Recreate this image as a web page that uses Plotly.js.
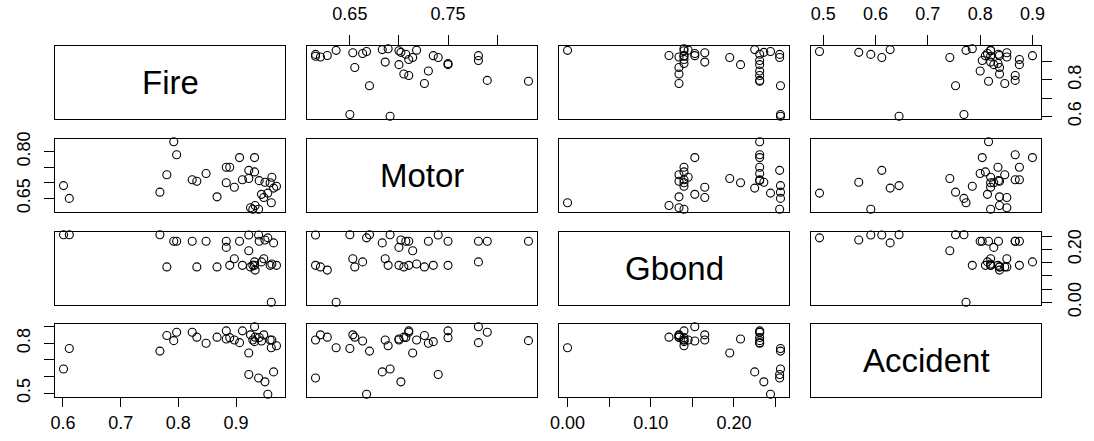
<!DOCTYPE html>
<html>
<head>
<meta charset="utf-8">
<script src="https://cdn.plot.ly/plotly-3.0.1.min.js"></script>
<style>html,body{margin:0;padding:0;background:#fff;}#chart{width:1094px;height:441px;}</style>
</head>
<body>
<div id="chart"></div>
<script>
const varNames = ['Fire', 'Motor', 'Gbond', 'Accident'];
const fire =     [0.601,0.611,0.961,0.768,0.780,0.792,0.797,0.824,0.832,0.848,0.867,0.883,0.889,0.883,0.897,0.906,0.911,0.922,0.932,0.932,0.955,0.965,0.922,0.939,0.950,0.925,0.929,0.933,0.944,0.948,0.959,0.962,0.970,0.940];
const motor =    [0.691,0.650,0.636,0.670,0.726,0.832,0.790,0.710,0.705,0.730,0.655,0.750,0.750,0.700,0.686,0.781,0.710,0.714,0.781,0.735,0.667,0.683,0.740,0.615,0.702,0.620,0.615,0.627,0.663,0.653,0.700,0.718,0.689,0.707];
const gbond =    [0.256,0.256,0.000,0.256,0.134,0.231,0.231,0.231,0.134,0.231,0.134,0.231,0.140,0.208,0.165,0.231,0.140,0.195,0.153,0.140,0.244,0.225,0.255,0.255,0.236,0.134,0.140,0.122,0.153,0.165,0.140,0.145,0.140,0.231];
const accident = [0.645,0.769,0.773,0.753,0.847,0.816,0.867,0.867,0.837,0.800,0.837,0.875,0.834,0.826,0.820,0.804,0.875,0.742,0.900,0.810,0.493,0.628,0.612,0.591,0.568,0.851,0.820,0.837,0.814,0.851,0.820,0.820,0.785,0.835];

// tick values and labels per variable (labels blank where R dropped them)
const fireTicks = [0.6, 0.7, 0.8, 0.9];
const fireLabelsX = ['0.6', '0.7', '0.8', '0.9'];
const fireLabelsY = ['0.6', '', '0.8', ''];
const motorTicks = [0.65, 0.70, 0.75, 0.80];
const motorLabelsX = ['0.65', '', '0.75', ''];
const motorLabelsY = ['0.65', '', '', '0.80'];
const gbondTicks = [0.00, 0.05, 0.10, 0.15, 0.20, 0.25];
const gbondLabelsX = ['0.00', '', '0.10', '', '0.20', ''];
const gbondLabelsY = ['0.00', '', '', '', '0.20', ''];
const accTicks = [0.5, 0.6, 0.7, 0.8, 0.9];
const accLabelsX = ['0.5', '0.6', '0.7', '0.8', '0.9'];
const accLabelsY = ['0.5', '', '', '0.8', ''];

const series = [fire, motor, gbond, accident];
const ticks = [fireTicks, motorTicks, gbondTicks, accTicks];
const labelsX = [fireLabelsX, motorLabelsX, gbondLabelsX, accLabelsX];
const labelsY = [fireLabelsY, motorLabelsY, gbondLabelsY, accLabelsY];

// ---- layout geometry ----
const W = 1094, H = 441;
const colLeft = [55, 307, 559, 811], panelW = 230;
const rowTop = [46, 139, 232, 324], panelH = 73;
const FONT = '"Liberation Sans", Arial, Helvetica, sans-serif';

function rangeOf(arr) {
  const mn = Math.min(...arr), mx = Math.max(...arr), d = (mx - mn) * 0.04;
  return [mn - d, mx + d];
}
const ranges = series.map(rangeOf);

const traces = [];
const layout = {
  width: W, height: H,
  margin: {l: 0, r: 0, t: 0, b: 0},
  paper_bgcolor: '#ffffff', plot_bgcolor: '#ffffff',
  showlegend: false,
  font: {family: FONT, size: 18, color: '#000'},
  annotations: []
};

for (let i = 0; i < 4; i++) {
  for (let j = 0; j < 4; j++) {
    const k = i * 4 + j + 1;
    const xn = 'x' + (k === 1 ? '' : k), yn = 'y' + (k === 1 ? '' : k);
    const xa = 'xaxis' + (k === 1 ? '' : k), ya = 'yaxis' + (k === 1 ? '' : k);
    const showX = (i === 3 && j % 2 === 0) || (i === 0 && j % 2 === 1);
    const showY = (j === 0 && i % 2 === 1) || (j === 3 && i % 2 === 0);
    layout[xa] = {
      domain: [colLeft[j] / W, (colLeft[j] + panelW) / W],
      anchor: yn, range: ranges[j],
      showgrid: false, zeroline: false,
      showline: true, linecolor: '#000', linewidth: 1, mirror: true,
      side: (i === 0) ? 'top' : 'bottom',
      ticks: showX ? 'outside' : '', ticklen: (i === 0) ? 10 : 9, tickwidth: 1, tickcolor: '#000',
      showticklabels: showX, tickmode: 'array', tickvals: ticks[j], ticktext: labelsX[j],
      ticklabelstandoff: (i === 0) ? 8 : 0,
      tickfont: {family: FONT, size: 18, color: '#000'},
      fixedrange: true
    };
    layout[ya] = {
      domain: [1 - (rowTop[i] + panelH) / H, 1 - rowTop[i] / H],
      anchor: xn, range: ranges[i],
      showgrid: false, zeroline: false,
      showline: true, linecolor: '#000', linewidth: 1, mirror: true,
      side: (j === 3) ? 'right' : 'left',
      ticks: showY ? 'outside' : '', ticklen: 10, tickwidth: 1, tickcolor: '#000',
      showticklabels: showY, tickmode: 'array', tickvals: ticks[i], ticktext: labelsY[i],
      tickangle: -90, ticklabelstandoff: 7,
      tickfont: {family: FONT, size: 18, color: '#000'},
      fixedrange: true
    };
    if (i === j) {
      traces.push({type: 'scatter', mode: 'markers', x: [], y: [], xaxis: xn, yaxis: yn, hoverinfo: 'skip'});
      layout.annotations.push({
        xref: xn + ' domain', yref: yn + ' domain', x: 0.5, y: 0.5,
        text: varNames[i], showarrow: false,
        font: {family: FONT, size: 33, color: '#000'}
      });
    } else {
      traces.push({
        type: 'scatter', mode: 'markers',
        x: series[j], y: series[i], xaxis: xn, yaxis: yn,
        marker: {symbol: 'circle-open', size: 8, color: '#000', line: {width: 1.1, color: '#000'}},
        hoverinfo: 'skip', cliponaxis: false
      });
    }
  }
}

Plotly.newPlot('chart', traces, layout, {staticPlot: true, displayModeBar: false});
</script>
</body>
</html>
